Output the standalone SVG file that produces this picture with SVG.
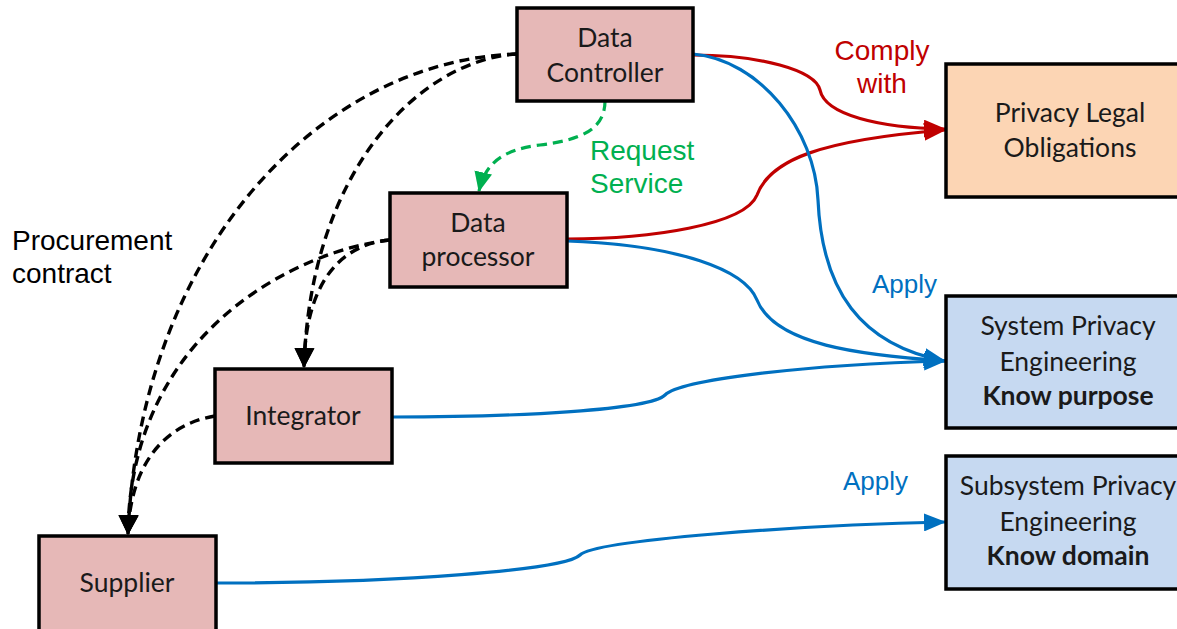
<svg xmlns="http://www.w3.org/2000/svg" width="1177" height="629" viewBox="0 0 1177 629">
  <defs>
    <style>
      .box { stroke: #000; stroke-width: 3.5; }
      .role { fill: #e6b8b7; }
      .legal { fill: #fcd5b4; }
      .eng { fill: #c6d9f1; }
      .nt { font-family: Lato, "Open Sans", sans-serif; font-size: 26.5px; fill: #1a1a1a; text-anchor: middle; }
      .b { font-weight: bold; }
      .lbl { font-family: "Liberation Sans", Arial, sans-serif; font-size: 28px; }
      .apply { font-size: 26px; }
      .c { fill: none; stroke-width: 3.2; }
      .red { stroke: #c00000; }
      .blue { stroke: #0070c0; }
      .green { stroke: #00b050; stroke-dasharray: 10 6; }
      .blk { stroke: #000; stroke-dasharray: 10 6; stroke-width: 3.4; }
    </style>
    <marker id="ah-red" markerUnits="userSpaceOnUse" markerWidth="22" markerHeight="18" refX="21" refY="9" orient="auto">
      <path d="M0,0 L22,9 L0,18 Z" fill="#c00000"/>
    </marker>
    <marker id="ah-blue" markerUnits="userSpaceOnUse" markerWidth="22" markerHeight="18" refX="21" refY="9" orient="auto">
      <path d="M0,0 L22,9 L0,18 Z" fill="#0070c0"/>
    </marker>
    <marker id="ah-green" markerUnits="userSpaceOnUse" markerWidth="20" markerHeight="18" refX="19" refY="9" orient="auto">
      <path d="M0,0 L20,9 L0,18 Z" fill="#00b050"/>
    </marker>
    <marker id="ah-blk" markerUnits="userSpaceOnUse" markerWidth="20" markerHeight="20" refX="19" refY="10" orient="auto">
      <path d="M0,0 L20,10 L0,20 Z" fill="#000"/>
    </marker>
  </defs>

  <g id="connectors">
    <!-- procurement contracts (dashed black) -->
    <path class="c blk" d="M517,54 C320,60 140,250 128,534" marker-end="url(#ah-blk)"/>
    <path class="c blk" d="M517,54 C420,60 310,170 304,367" marker-end="url(#ah-blk)"/>
    <path class="c blk" d="M390,240 C300,250 130,330 128,534" marker-end="url(#ah-blk)"/>
    <path class="c blk" d="M390,240 C335,245 305,290 304,367" marker-end="url(#ah-blk)"/>
    <path class="c blk" d="M215,416 C160,425 130,470 128,534" marker-end="url(#ah-blk)"/>
    <!-- request service -->
    <path class="c green" d="M605,101 C605,130 580,140 540,145 C500,150 485,165 479,191" marker-end="url(#ah-green)"/>
    <!-- comply with -->
    <path class="c red" d="M693,55 C760,55 815,70 820,90 C825,115 880,128 945,129" marker-end="url(#ah-red)"/>
    <path class="c red" d="M567,239 C650,239 745,225 757,195 C770,160 820,140 945,130" marker-end="url(#ah-red)"/>
    <!-- apply -->
    <path class="c blue" d="M693,54 C760,60 815,130 818,200 C822,290 860,345 945,361" marker-end="url(#ah-blue)"/>
    <path class="c blue" d="M567,241 C680,245 745,270 757,300 C775,345 860,355 945,361" marker-end="url(#ah-blue)"/>
    <path class="c blue" d="M392,417 C520,417 650,410 665,395 C680,380 800,365 945,361" marker-end="url(#ah-blue)"/>
    <path class="c blue" d="M216,583 C400,583 565,570 580,555 C595,540 800,525 945,522" marker-end="url(#ah-blue)"/>
  </g>

  <g id="labels">
    <text class="lbl" x="12" y="250" fill="#000">Procurement</text>
    <text class="lbl" x="12" y="283" fill="#000">contract</text>
    <text class="lbl" x="882" y="60" fill="#c00000" text-anchor="middle">Comply</text>
    <text class="lbl" x="882" y="93" fill="#c00000" text-anchor="middle">with</text>
    <text class="lbl" x="590" y="160" fill="#00b050">Request</text>
    <text class="lbl" x="590" y="193" fill="#00b050">Service</text>
    <text class="lbl apply" x="872" y="293" fill="#0070c0">Apply</text>
    <text class="lbl apply" x="843" y="490" fill="#0070c0">Apply</text>
  </g>

  <g id="data-controller">
    <rect class="box role" x="517" y="8" width="176" height="93"/>
    <text class="nt" x="605" y="47">Data</text>
    <text class="nt" x="605" y="82">Controller</text>
  </g>
  <g id="data-processor">
    <rect class="box role" x="390" y="193" width="177" height="94"/>
    <text class="nt" x="478" y="232">Data</text>
    <text class="nt" x="478" y="266">processor</text>
  </g>
  <g id="integrator">
    <rect class="box role" x="215" y="369" width="177" height="94"/>
    <text class="nt" x="303" y="425">Integrator</text>
  </g>
  <g id="supplier">
    <rect class="box role" x="39" y="536" width="177" height="100"/>
    <text class="nt" x="127" y="592">Supplier</text>
  </g>
  <g id="privacy-legal-obligations">
    <rect class="box legal" x="946" y="64" width="236" height="133"/>
    <text class="nt" x="1070" y="122">Privacy Legal</text>
    <text class="nt" x="1070" y="157">Obligations</text>
  </g>
  <g id="system-privacy-engineering">
    <rect class="box eng" x="946" y="296" width="236" height="132"/>
    <text class="nt" x="1068" y="335">System Privacy</text>
    <text class="nt" x="1068" y="371">Engineering</text>
    <text class="nt b" x="1068" y="405">Know purpose</text>
  </g>
  <g id="subsystem-privacy-engineering">
    <rect class="box eng" x="946" y="456" width="236" height="133"/>
    <text class="nt" x="1068" y="495">Subsystem Privacy</text>
    <text class="nt" x="1068" y="531">Engineering</text>
    <text class="nt b" x="1068" y="565">Know domain</text>
  </g>
</svg>
